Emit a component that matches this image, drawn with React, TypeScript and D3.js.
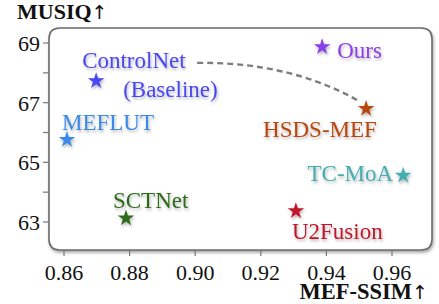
import React from "react";
import * as d3 from "d3";

const methods = ["Ours", "HSDS-MEF", "ControlNet", "MEFLUT", "SCTNet", "TC-MoA", "U2Fusion"];
const mefSsim = [0.9387, 0.9521, 0.8698, 0.8609, 0.8789, 0.9634, 0.9307];
const musiq = [68.87, 66.8, 67.73, 65.76, 63.13, 64.56, 63.37];
const colors = ["#8a3fe6", "#b8470c", "#4a46f0", "#3a8ae8", "#2f6b1c", "#45acaf", "#c0182c"];
const xTicks = [0.86, 0.88, 0.9, 0.92, 0.94, 0.96];
const yTicks = [63, 64, 65, 66, 67, 68, 69];
const yLabels = [63, 65, 67, 69];

// label offsets (dx, dy, anchor) relative to star
const labelPos: [number, number, string][] = [
  [15, 11, "start"],
  [-103, 28, "start"],
  [-14, -13, "start"],
  [-5, -10, "start"],
  [-13, -10, "start"],
  [-10, 6, "end"],
  [-4, 28, "start"],
];

const FONT = "'Liberation Serif'";

export default function App() {
  const W = 439, H = 304;
  const x = d3.scaleLinear().domain([0.86, 0.96]).range([64, 392]);
  const y = d3.scaleLinear().domain([63, 69]).range([222, 43]);
  const star = d3.symbol().type(d3.symbolStar).size(85)();
  const fL = 49, fT = 28, fR = 432, fB = 250, r = 11;
  const framePath = `M${fL},${fB - r} L${fL},${fT + r} Q${fL},${fT} ${fL + r},${fT} L${fR - r},${fT} Q${fR},${fT} ${fR},${fT + r} L${fR},${fB - r} Q${fR},${fB} ${fR - r},${fB} L${fL + r},${fB} Q${fL},${fB} ${fL},${fB - r} Z`;
  const c0 = [x(0.8698) + 101, y(67.73) - 18];
  const c1 = [x(0.9521) - 8, y(66.8) - 8];
  const curve = `M${c0[0]},${c0[1]} Q${c0[0] + 93},${c0[1] - 1} ${c1[0]},${c1[1]}`;
  const ts = { fontFamily: FONT };
  const arrowStyle = { fontFamily: "'DejaVu Sans'", fontWeight: "normal" as const };
  return (
    <svg width={W} height={H} style={{ position: "absolute", left: 0, top: 0 }}>
      <defs>
        <filter id="sh" x="-20%" y="-30%" width="140%" height="180%">
          <feDropShadow dx="1" dy="2" stdDeviation="1.5" floodColor="#000" floodOpacity="0.3" />
        </filter>
        <filter id="fsh" x="-5%" y="-5%" width="110%" height="115%">
          <feDropShadow dx="1" dy="2" stdDeviation="1.5" floodColor="#000" floodOpacity="0.35" />
        </filter>
      </defs>
      <rect width={W} height={H} fill="#fff" />
      <path d={framePath} fill="#fff" stroke="#6a6a6a" strokeWidth={1.6} filter="url(#fsh)" />
      {yTicks.map((t) => (
        <line key={"yt" + t} x1={fL - 6} x2={fL} y1={y(t)} y2={y(t)} stroke="#777" strokeWidth={1.2} />
      ))}
      {yLabels.map((t) => (
        <text key={"yl" + t} x={fL - 9} y={y(t) + 8} textAnchor="end" fontSize={22} fill="#111" style={ts}>
          {t}
        </text>
      ))}
      {xTicks.map((t) => (
        <g key={"xt" + t}>
          <line x1={x(t)} x2={x(t)} y1={fB} y2={fB + 6} stroke="#777" strokeWidth={1.2} />
          <text x={x(t)} y={280} textAnchor="middle" fontSize={22} fill="#111" style={ts}>
            {t.toFixed(2)}
          </text>
        </g>
      ))}
      <text x={17} y={19} fontSize={22} fontWeight="bold" fill="#111" style={ts}>
        MUSIQ<tspan style={arrowStyle} fontSize={19}>↑</tspan>
      </text>
      <text x={428} y={299} textAnchor="end" fontSize={22.5} fontWeight="bold" fill="#111" style={ts}>
        MEF-SSIM<tspan style={arrowStyle} fontSize={19}>↑</tspan>
      </text>
      <path d={curve} fill="none" stroke="#7d7d7d" strokeWidth={2.4} strokeDasharray="6,4" />
      {methods.map((m, i) => {
        const cx = x(mefSsim[i]);
        const cy = y(musiq[i]);
        const [dx, dy, anchor] = labelPos[i];
        return (
          <g key={m} filter="url(#sh)">
            <path d={star} transform={`translate(${cx},${cy})`} fill={colors[i]} />
            {m === "ControlNet" ? (
              <text x={cx + dx} y={cy + dy} fontSize={23} fill={colors[i]} textAnchor={anchor as any} style={ts}>
                <tspan>ControlNet</tspan>
                <tspan x={cx + 27} dy={29}>(Baseline)</tspan>
              </text>
            ) : (
              <text x={cx + dx} y={cy + dy} fontSize={23} fill={colors[i]} textAnchor={anchor as any} style={ts}>
                {m}
              </text>
            )}
          </g>
        );
      })}
    </svg>
  );
}
